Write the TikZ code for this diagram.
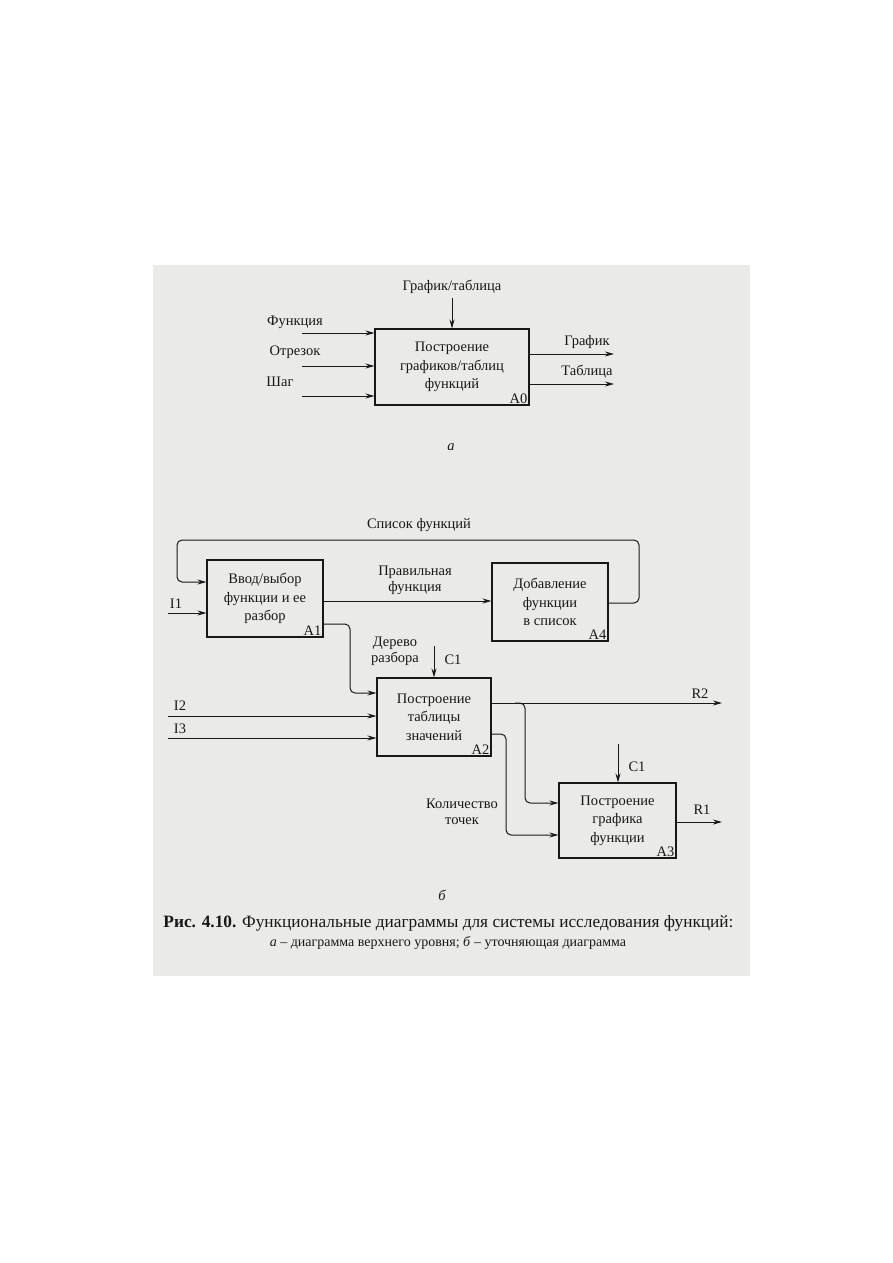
\documentclass[tikz,border=0pt]{standalone}
\usepackage{fontspec}
\setmainfont{Liberation Serif}
\usetikzlibrary{arrows.meta}
\definecolor{ink}{RGB}{24,24,24}
\definecolor{scan}{RGB}{234,234,232}
\newcommand{\diafont}{\fontsize{14.5}{18.5}\selectfont}
\newcommand{\tagfont}{\fontsize{14.5}{16}\selectfont}
\newcommand{\capfont}{\fontsize{17.3}{20}\selectfont}
\newcommand{\subfont}{\fontsize{14}{16}\selectfont}
\begin{document}
\begin{tikzpicture}[x=1pt,y=-1pt,
  box/.style={draw=ink, line width=1.1pt, inner sep=0pt, align=center, font=\diafont, text=ink},
  lbl/.style={inner sep=0pt, font=\diafont, text=ink, align=center},
  tag/.style={inner sep=0pt, font=\tagfont, text=ink, align=center},
  arr/.style={draw=ink, line width=1pt, -{Stealth[length=9pt,width=5pt]}},
  rcorner/.style={rounded corners=5pt}]
\useasboundingbox (0,0) rectangle (893,1263);
\fill[white] (0,0) rectangle (893,1263);
\fill[scan] (153,265) rectangle (750,976);

% ---------- diagram a ----------
\node[box, minimum width=154pt, minimum height=76pt] (A0) at (452,367) {Построение\\графиков/таблиц\\функций};
\node[lbl, anchor=south east] (A0n) at ([shift={(-2pt,1.5pt)}]A0.south east) {A0};

\node[lbl] (lgt) at (452,287) {График/таблица};
\coordinate (cgt) at (452,298);
\draw[arr] (cgt) -- (A0.north);

\node[lbl] (lfun) at (295,322) {Функция};
\node[lbl] (lotr) at (295,352) {Отрезок};
\node[lbl] (lsha) at (280,382) {Шаг};
\coordinate (ifun) at (302,333);
\coordinate (iotr) at (302,366);
\coordinate (isha) at (302,396);
\draw[arr] (ifun) -- (ifun -| A0.west);
\draw[arr] (iotr) -- (iotr -| A0.west);
\draw[arr] (isha) -- (isha -| A0.west);

\node[lbl] (lgr) at (587,342) {График};
\node[lbl] (ltb) at (587,372) {Таблица};
\coordinate (ogr) at (614,354);
\coordinate (otb) at (614,384);
\draw[arr] (ogr -| A0.east) -- (ogr);
\draw[arr] (otb -| A0.east) -- (otb);

\node[lbl, font=\diafont\itshape] (la) at (451,447) {а};

% ---------- diagram b ----------
\node[box, minimum width=116pt, minimum height=77pt] (A1) at (265,598.5) {Ввод/выбор\\функции и ее\\разбор};
\node[lbl, anchor=south east] (A1n) at ([shift={(-2pt,1.5pt)}]A1.south east) {A1};
\node[box, minimum width=116pt, minimum height=78pt] (A4) at (550,602) {Добавление\\функции\\в список};
\node[lbl, anchor=south east] (A4n) at ([shift={(-2pt,1.5pt)}]A4.south east) {A4};
\node[box, minimum width=114pt, minimum height=78pt] (A2) at (434,717) {Построение\\таблицы\\значений};
\node[lbl, anchor=south east] (A2n) at ([shift={(-2pt,1.5pt)}]A2.south east) {A2};
\node[box, minimum width=117pt, minimum height=75pt] (A3) at (617.5,820.5) {Построение\\графика\\функции};
\node[lbl, anchor=south east] (A3n) at ([shift={(-2pt,1.5pt)}]A3.south east) {A3};

% feedback loop
\node[lbl] (lsp) at (419,525) {Список функций};
\coordinate (lpA) at (639,603);
\coordinate (lpB) at (639,540);
\coordinate (lpC) at (177,540);
\coordinate (lpD) at (177,582);
\draw[arr, rcorner] (lpA -| A4.east) -- (lpA) -- (lpB) -- (lpC) -- (lpD) -- (lpD -| A1.west);

% I1
\node[lbl] (lI1) at (176,604) {I1};
\coordinate (iI1) at (168,613);
\draw[arr] (iI1) -- (iI1 -| A1.west);

% A1 -> A4
\node[tag] (lpr) at (415,580) {Правильная\\функция};
\coordinate (pr) at (400,601);
\draw[arr] (pr -| A1.east) -- (pr -| A4.west);

% A1 -> A2
\node[tag] (lder) at (395,651) {Дерево\\разбора};
\coordinate (dA) at (350,624);
\coordinate (dB) at (350,693);
\draw[arr, rcorner] (dA -| A1.east) -- (dA) -- (dB) -- (dB -| A2.west);

% C1 -> A2
\node[lbl] (lc1a) at (453,660) {C1};
\coordinate (c1a) at (434,646);
\draw[arr] (c1a) -- (c1a |- A2.north);

% I2, I3
\node[lbl] (lI2) at (180,706) {I2};
\node[lbl] (lI3) at (180,729) {I3};
\coordinate (iI2) at (168,716);
\coordinate (iI3) at (168,738);
\draw[arr] (iI2) -- (iI2 -| A2.west);
\draw[arr] (iI3) -- (iI3 -| A2.west);

% R2 and branch to A3
\node[lbl] (lR2) at (700,694) {R2};
\coordinate (r2) at (722,703);
\draw[arr] (r2 -| A2.east) -- (r2);
\coordinate (bA) at (515,703);
\coordinate (bB) at (525,703);
\coordinate (bC) at (525,803);
\draw[arr, rcorner] (bA) -- (bB) -- (bC) -- (bC -| A3.west);

% A2 -> A3 (number of points)
\node[tag] (lkol) at (462,812) {Количество\\точек};
\coordinate (kA) at (506,734);
\coordinate (kB) at (506,835);
\draw[arr, rcorner] (kA -| A2.east) -- (kA) -- (kB) -- (kB -| A3.west);

% C1 -> A3
\node[lbl] (lc1b) at (637,767) {C1};
\coordinate (c1b) at (618,744);
\draw[arr] (c1b) -- (c1b |- A3.north);

% R1
\node[lbl] (lR1) at (702,810) {R1};
\coordinate (r1) at (722,822);
\draw[arr] (r1 -| A3.east) -- (r1);

\node[lbl, font=\diafont\itshape] (lb) at (442,895) {б};

% caption
\node[lbl, font=\capfont] (cap1) at (448.5,923) {\textbf{Рис. 4.10.} Функциональные диаграммы для системы исследования функций:};
\node[lbl, font=\subfont] (cap2) at (448,943) {\textit{а} – диаграмма верхнего уровня; \textit{б} – уточняющая диаграмма};
\end{tikzpicture}
\end{document}
